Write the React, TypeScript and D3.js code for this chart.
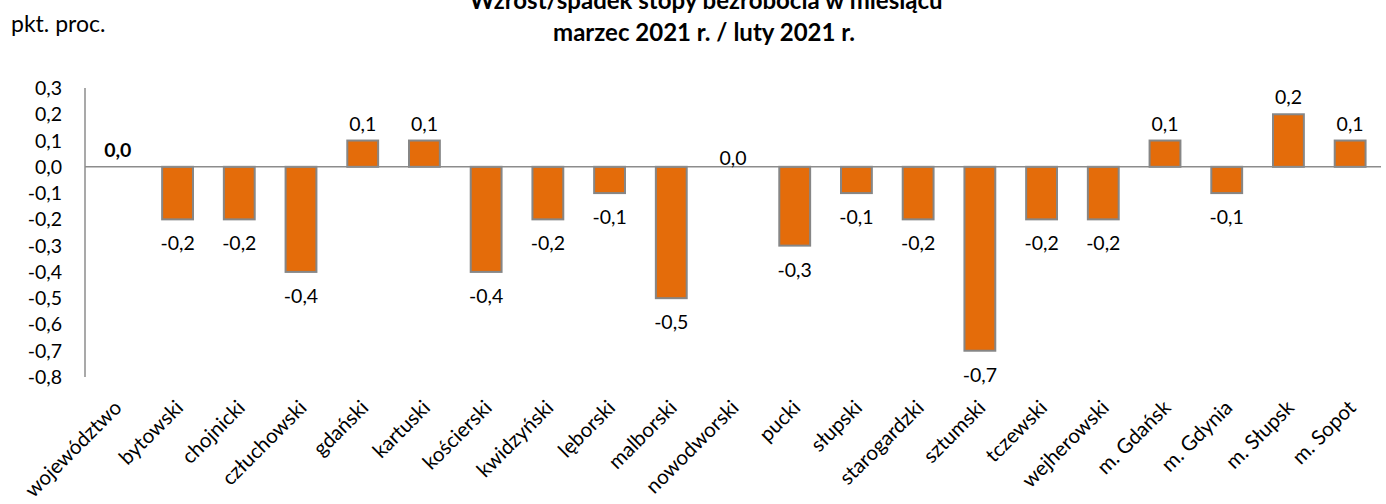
import { useEffect, useRef } from 'react'
import * as d3 from 'd3'

const categories = ['województwo', 'bytowski', 'chojnicki', 'człuchowski', 'gdański', 'kartuski', 'kościerski', 'kwidzyński', 'lęborski', 'malborski', 'nowodworski', 'pucki', 'słupski', 'starogardzki', 'sztumski', 'tczewski', 'wejherowski', 'm. Gdańsk', 'm. Gdynia', 'm. Słupsk', 'm. Sopot']
const values = [0.0, -0.2, -0.2, -0.4, 0.1, 0.1, -0.4, -0.2, -0.1, -0.5, 0.0, -0.3, -0.1, -0.2, -0.7, -0.2, -0.2, 0.1, -0.1, 0.2, 0.1]
const yTicks = [0.3, 0.2, 0.1, 0.0, -0.1, -0.2, -0.3, -0.4, -0.5, -0.6, -0.7, -0.8]

const fmt = (v: number) => v.toFixed(1).replace('.', ',')

function App() {
  const ref = useRef<SVGSVGElement>(null)
  const width = 1386
  const height = 504

  useEffect(() => {
    const svg = d3.select(ref.current)
    svg.selectAll('*').remove()
    const font = 'Lato, "Open Sans", sans-serif'

    const x = d3.scaleBand().domain(categories).range([85, 1381]).paddingInner(0.5).paddingOuter(0.25)
    const y = d3.scaleLinear().domain([-0.8, 0.3]).range([377, 88])

    // title (first line is cut at the top, as in the source)
    svg.append('text').attr('x', 706).attr('y', 9).attr('text-anchor', 'middle')
      .attr('font-family', font).attr('font-weight', 'bold').attr('font-size', 24)
      .text('Wzrost/spadek stopy bezrobocia w miesiącu')
    svg.append('text').attr('x', 704).attr('y', 41).attr('text-anchor', 'middle')
      .attr('font-family', font).attr('font-weight', 'bold').attr('font-size', 24)
      .text('marzec 2021 r. / luty 2021 r.')
    svg.append('text').attr('x', 11).attr('y', 32)
      .attr('font-family', font).attr('font-size', 23).text('pkt. proc.')

    // y tick labels
    svg.append('g').selectAll('text').data(yTicks).join('text')
      .attr('x', 62).attr('y', d => y(d) + 7).attr('text-anchor', 'end')
      .attr('font-family', font).attr('font-size', 19.5).attr('fill', '#000')
      .text(d => fmt(d))

    // bars
    const bw = x.bandwidth()
    svg.append('g').selectAll('rect').data(values).join('rect')
      .attr('x', (d, i) => x(categories[i])!)
      .attr('y', d => y(Math.max(0, d)))
      .attr('width', bw)
      .attr('height', d => Math.abs(y(d) - y(0)))
      .attr('fill', '#E46C0A')
      .attr('stroke', '#868686')
      .attr('stroke-width', 2)

    // axes lines
    svg.append('line').attr('x1', 85).attr('x2', 85).attr('y1', y(0.3)).attr('y2', y(-0.8))
      .attr('stroke', '#8c8c8c').attr('stroke-width', 1.5)
    svg.append('line').attr('x1', 85).attr('x2', 1381).attr('y1', y(0)).attr('y2', y(0))
      .attr('stroke', '#8c8c8c').attr('stroke-width', 1.5)

    // value labels
    svg.append('g').selectAll('text').data(values).join('text')
      .attr('x', (d, i) => x(categories[i])! + bw / 2 + (i === 0 ? 2 : 0))
      .attr('y', (d, i) => {
        if (i === 0) return y(0) - 10
        if (d === 0) return y(0) - 2
        return d > 0 ? y(d) - 10 : y(d) + 31
      })
      .attr('text-anchor', 'middle')
      .attr('font-family', font).attr('font-size', 19.5)
      .attr('font-weight', (d, i) => (i === 0 ? 'bold' : 'normal'))
      .text(d => fmt(d))

    // x labels
    svg.append('g').selectAll('text').data(categories).join('text')
      .attr('transform', d => `translate(${x(d)! + bw / 2 + 7},${409}) rotate(-45)`)
      .attr('text-anchor', 'end')
      .attr('font-family', font).attr('font-size', 20.5)
      .text(d => d)
  }, [])

  return (
    <svg ref={ref} width={width} height={height}
      style={{ position: 'absolute', left: 0, top: 0, background: '#fff' }} />
  )
}

export default App
